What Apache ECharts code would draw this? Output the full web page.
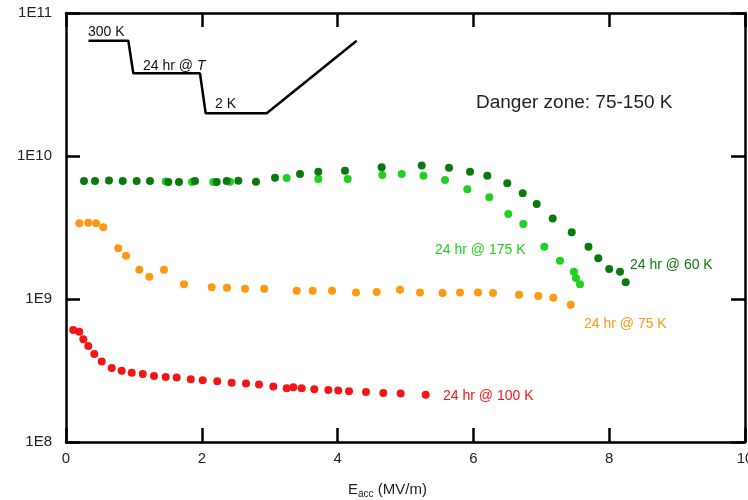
<!DOCTYPE html>
<html>
<head>
<meta charset="utf-8">
<script src="https://cdn.jsdelivr.net/npm/echarts@6/dist/echarts.min.js"></script>
<style>
  html, body { margin: 0; padding: 0; background: #fff; }
  #chart { width: 748px; height: 500px; }
</style>
</head>
<body>
<div id="chart"></div>
<script>
// Field (MV/m) and Q0 after a 24 h hold at each temperature
const x100K = [0.107, 0.196, 0.255, 0.328, 0.417, 0.526, 0.673, 0.820, 0.968, 1.130, 1.296, 1.468, 1.630, 1.837, 2.013, 2.228, 2.440, 2.651, 2.842, 3.053, 3.250, 3.348, 3.471, 3.657, 3.863, 4.010, 4.168, 4.418, 4.673, 4.929, 5.297];
const q100K = [6.07e8, 5.90e8, 5.22e8, 4.69e8, 4.12e8, 3.65e8, 3.29e8, 3.15e8, 3.05e8, 2.99e8, 2.90e8, 2.85e8, 2.82e8, 2.75e8, 2.70e8, 2.66e8, 2.60e8, 2.57e8, 2.52e8, 2.44e8, 2.38e8, 2.41e8, 2.38e8, 2.34e8, 2.31e8, 2.29e8, 2.26e8, 2.24e8, 2.20e8, 2.18e8, 2.14e8];

const x75K = [0.196, 0.328, 0.442, 0.549, 0.770, 0.884, 1.080, 1.227, 1.443, 1.738, 2.146, 2.371, 2.636, 2.920, 3.398, 3.633, 3.918, 4.271, 4.576, 4.919, 5.214, 5.545, 5.803, 6.068, 6.289, 6.672, 6.956, 7.177, 7.433];
const q75K = [3.38e9, 3.42e9, 3.38e9, 3.17e9, 2.26e9, 2.01e9, 1.60e9, 1.43e9, 1.60e9, 1.27e9, 1.21e9, 1.20e9, 1.18e9, 1.18e9, 1.14e9, 1.14e9, 1.14e9, 1.11e9, 1.12e9, 1.16e9, 1.11e9, 1.10e9, 1.11e9, 1.11e9, 1.10e9, 1.07e9, 1.05e9, 1.02e9, 9.12e8];

const x60K = [0.265, 0.427, 0.633, 0.835, 1.041, 1.237, 1.507, 1.664, 1.900, 2.219, 2.367, 2.538, 2.798, 3.078, 3.446, 3.716, 4.109, 4.649, 5.239, 5.641, 5.950, 6.205, 6.499, 6.726, 6.932, 7.168, 7.448, 7.695, 7.839, 8.000, 8.159, 8.243];
const q60K = [6.68e9, 6.68e9, 6.74e9, 6.68e9, 6.68e9, 6.68e9, 6.58e9, 6.58e9, 6.68e9, 6.58e9, 6.68e9, 6.72e9, 6.61e9, 7.05e9, 7.48e9, 7.77e9, 7.89e9, 8.34e9, 8.59e9, 8.28e9, 7.77e9, 7.28e9, 6.44e9, 5.48e9, 4.61e9, 3.66e9, 2.93e9, 2.32e9, 1.93e9, 1.62e9, 1.55e9, 1.31e9];

const x175K = [1.468, 1.856, 2.169, 2.415, 3.250, 3.716, 4.149, 4.658, 4.944, 5.265, 5.582, 5.910, 6.234, 6.514, 6.735, 7.044, 7.275, 7.481, 7.511, 7.570];
const q175K = [6.64e9, 6.58e9, 6.58e9, 6.61e9, 7.02e9, 6.90e9, 6.90e9, 7.36e9, 7.48e9, 7.28e9, 6.79e9, 5.85e9, 5.14e9, 3.93e9, 3.34e9, 2.32e9, 1.85e9, 1.55e9, 1.40e9, 1.27e9];

// Thermal-cycle sketch (300 K -> hold at T -> 2 K -> ramp), drawn in axis units
const cycleX = [0.331, 0.918, 0.991, 1.973, 2.057, 2.956, 4.281];
const cycleY = [6.40e10, 6.40e10, 3.79e10, 3.79e10, 1.99e10, 1.99e10, 6.40e10];

const xTicks = [0, 2, 4, 6, 8, 10];
const yTickLabels = ['1E8', '1E9', '1E10', '1E11'];

const pairs = (xs, ys) => xs.map((v, i) => [v, ys[i]]);

const FONT = 'Liberation Sans, Arial, sans-serif';
const C_RED = '#f41616';
const C_ORANGE = '#ff9812';
const C_DKGREEN = '#0a7a10';
const C_LTGREEN = '#22d022';

const chart = echarts.init(document.getElementById('chart'), null, { renderer: 'canvas' });

const axisLine = { show: true, onZero: false, lineStyle: { color: '#000', width: 2.5 } };
const axisTick = { show: true, inside: true, length: 14, lineStyle: { color: '#000', width: 2.5 } };

function dots(name, data, color) {
  return {
    name, type: 'scatter', data, symbol: 'circle', symbolSize: 8,
    itemStyle: { color, opacity: 1 }, xAxisIndex: 0, yAxisIndex: 0, z: 3
  };
}

function note(x, y, text, fill, size, rich) {
  return {
    type: 'text', x, y, z: 10,
    style: { text, fill, font: size + 'px ' + FONT, align: 'left', verticalAlign: 'middle', rich }
  };
}

chart.setOption({
  animation: false,
  backgroundColor: '#fff',
  grid: { left: 66, right: 3, top: 13, bottom: 58, outerBoundsMode: 'none', containLabel: false },
  xAxis: [
    {
      type: 'value', min: xTicks[0], max: xTicks[xTicks.length - 1], interval: 2,
      position: 'bottom',
      axisLine, axisTick, splitLine: { show: false },
      axisLabel: { color: '#222', fontSize: 15, fontFamily: FONT, margin: 9 },
      name: '{e|E}{s|acc}{e| (MV/m)}',
      nameLocation: 'middle', nameGap: 39,
      nameTextStyle: {
        padding: [0, 36, 0, 0],
        rich: {
          e: { fontSize: 15, fontFamily: FONT, color: '#222' },
          s: { fontSize: 10, fontFamily: FONT, color: '#222', verticalAlign: 'bottom', padding: [8, 0, 0, 0] }
        }
      }
    },
    {
      type: 'value', min: xTicks[0], max: xTicks[xTicks.length - 1], interval: 2,
      position: 'top',
      axisLine, axisTick, splitLine: { show: false }, axisLabel: { show: false }
    }
  ],
  yAxis: [
    {
      type: 'log', logBase: 10, min: 1e8, max: 1e11,
      position: 'left',
      axisLine, axisTick, splitLine: { show: false }, minorTick: { show: false },
      axisLabel: {
        color: '#222', fontSize: 15, fontFamily: FONT, margin: 14,
        formatter: v => yTickLabels[Math.round(Math.log10(v)) - 8]
      }
    },
    {
      type: 'log', logBase: 10, min: 1e8, max: 1e11,
      position: 'right',
      axisLine, axisTick, splitLine: { show: false }, axisLabel: { show: false }
    }
  ],
  series: [
    {
      name: 'cycle', type: 'line', data: pairs(cycleX, cycleY),
      symbol: 'none', lineStyle: { color: '#000', width: 2.5 }, z: 2, silent: true
    },
    dots('24 hr @ 100 K', pairs(x100K, q100K), C_RED),
    dots('24 hr @ 75 K', pairs(x75K, q75K), C_ORANGE),
    dots('24 hr @ 175 K', pairs(x175K, q175K), C_LTGREEN),
    dots('24 hr @ 60 K', pairs(x60K, q60K), C_DKGREEN)
  ],
  graphic: [
    note(88, 32, '300 K', '#111', 14),
    note(143, 66, '{n|24 hr @ }{i|T}', '#111', 14, {
      n: { font: '14px ' + FONT, fill: '#111' },
      i: { font: 'italic 14px ' + FONT, fill: '#111' }
    }),
    note(215, 104, '2 K', '#111', 14),
    note(476, 103, 'Danger zone: 75-150 K', '#222', 19),
    note(435, 250, '24 hr @ 175 K', C_LTGREEN, 14),
    note(630, 265, '24 hr @ 60 K', C_DKGREEN, 14),
    note(584, 324, '24 hr @ 75 K', C_ORANGE, 14),
    note(443, 396, '24 hr @ 100 K', C_RED, 14)
  ]
});
</script>
</body>
</html>
